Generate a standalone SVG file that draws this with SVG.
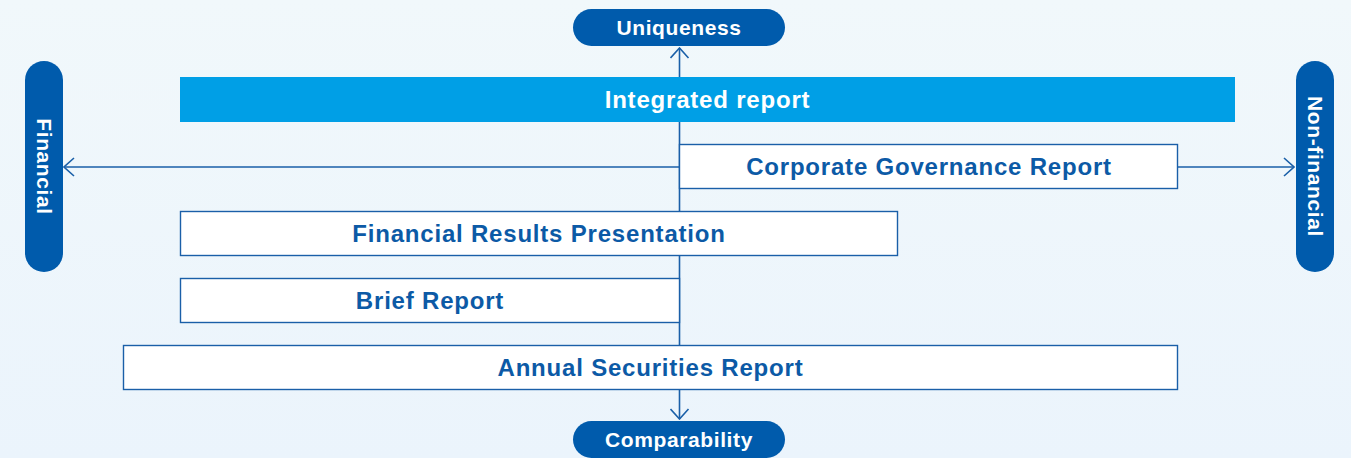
<svg xmlns="http://www.w3.org/2000/svg" width="1351" height="458" viewBox="0 0 1351 458">
<defs>
<linearGradient id="bg" x1="0" y1="0" x2="0" y2="1">
<stop offset="0" stop-color="#f1f8fb"/>
<stop offset="1" stop-color="#ebf4fc"/>
</linearGradient>
<marker id="arr" viewBox="0 0 12 20" refX="11" refY="10" markerWidth="12" markerHeight="20" markerUnits="userSpaceOnUse" orient="auto">
<path d="M1,1 L11,10 L1,19" fill="none" stroke="#1a5fa8" stroke-width="1.6"/>
</marker>
</defs>
<style>
.pill{fill:#005bac}
.pt{fill:#ffffff;font-family:"Liberation Sans",Arial,sans-serif;font-weight:bold;font-size:21px;letter-spacing:0.6px;text-anchor:middle}
.box{fill:#ffffff;stroke:#1a5fa8;stroke-width:1.4}
.bt{fill:#0c5aa6;font-family:"Liberation Sans",Arial,sans-serif;font-weight:bold;font-size:24px;letter-spacing:0.8px;text-anchor:middle}
.ln{fill:none;stroke:#1a5fa8;stroke-width:1.6}
</style>
<rect x="0" y="0" width="1351" height="458" fill="url(#bg)"/>
<g id="connectors">
<line class="ln" x1="679.5" y1="230" x2="679.5" y2="48" marker-end="url(#arr)"/>
<line class="ln" x1="679.5" y1="230" x2="679.5" y2="419" marker-end="url(#arr)"/>
<line class="ln" x1="679.5" y1="167" x2="64" y2="167" marker-end="url(#arr)"/>
<line class="ln" x1="679.5" y1="167" x2="1294" y2="167" marker-end="url(#arr)"/>
</g>
<g id="uniqueness">
<rect class="pill" x="573" y="9" width="212" height="37" rx="18.5"/>
<text class="pt" x="679" y="35">Uniqueness</text>
</g>
<g id="comparability">
<rect class="pill" x="573" y="421" width="212" height="37" rx="18.5"/>
<text class="pt" x="679" y="447">Comparability</text>
</g>
<g id="financial">
<rect class="pill" x="25" y="61" width="38" height="211" rx="19"/>
<text class="pt" transform="translate(43.5,166.5) rotate(90)" x="0" y="7">Financial</text>
</g>
<g id="nonfinancial">
<rect class="pill" x="1296" y="61" width="38" height="211" rx="19"/>
<text class="pt" transform="translate(1314.5,166.5) rotate(90)" x="0" y="7">Non-financial</text>
</g>
<g id="integrated">
<rect x="180" y="77" width="1055" height="45" fill="#009fe6"/>
<text class="pt" style="font-size:24px;letter-spacing:0.8px" x="707.5" y="108">Integrated report</text>
</g>
<g id="cgr">
<rect class="box" x="679.5" y="144.5" width="498" height="44"/>
<text class="bt" x="929" y="175">Corporate Governance Report</text>
</g>
<g id="frp">
<rect class="box" x="180.5" y="211.5" width="717" height="44"/>
<text class="bt" x="539" y="242">Financial Results Presentation</text>
</g>
<g id="brief">
<rect class="box" x="180.5" y="278.5" width="499" height="44"/>
<text class="bt" x="430" y="309">Brief Report</text>
</g>
<g id="asr">
<rect class="box" x="123.5" y="345.5" width="1054" height="44"/>
<text class="bt" x="650.5" y="376">Annual Securities Report</text>
</g>
</svg>
